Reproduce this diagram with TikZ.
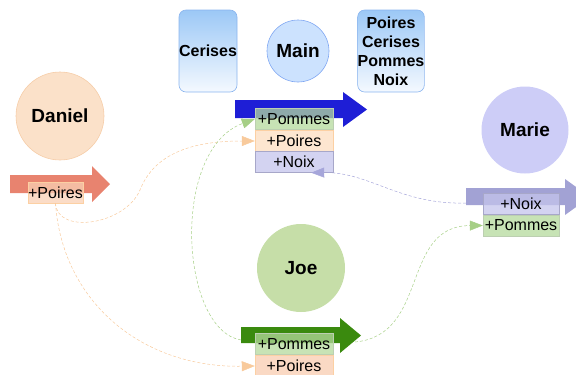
\documentclass[tikz,border=0pt]{standalone}
\usepackage{fontspec}
\setmainfont{Liberation Sans}
\usetikzlibrary{arrows.meta,shadings}
\definecolor{boxtop}{HTML}{9CC8F6}
\definecolor{boxbot}{HTML}{F4F9FF}
\definecolor{boxline}{HTML}{8AB4EE}
\definecolor{mainfill}{HTML}{CCE2FE}
\definecolor{mainline}{HTML}{7FA6F2}
\definecolor{danfill}{HTML}{FBE1C9}
\definecolor{danline}{HTML}{F6CDA8}
\definecolor{marfill}{HTML}{CDCDF7}
\definecolor{joefill}{HTML}{C6DEA8}
\definecolor{bluearr}{HTML}{1E1ED6}
\definecolor{danarr}{HTML}{E8836F}
\definecolor{mararr}{HTML}{A2A2D4}
\definecolor{joearr}{HTML}{3A8A0E}
\definecolor{pomfill}{HTML}{B4DA9C}
\definecolor{poifill}{HTML}{FCDEC0}
\definecolor{noifill}{HTML}{C4C4EC}
\definecolor{orcon}{HTML}{F8CA9C}
\definecolor{grcon}{HTML}{A6CF86}
\definecolor{pucon}{HTML}{A6A6DA}
\tikzset{
  x=1pt, y=-1pt,
  person/.style={circle, minimum size=#1, inner sep=0pt, font=\fontsize{19}{21}\selectfont\bfseries},
  fruitbox/.style={rounded corners=7pt, draw=boxline, line width=0.6pt, top color=boxtop, bottom color=boxbot,
    minimum width=58pt, minimum height=82pt, inner sep=0pt, align=center,
    font=\fontsize{16}{19}\selectfont\bfseries},
  item/.style={minimum width=#1, minimum height=21pt, inner sep=0pt, line width=0.4pt,
    font=\fontsize{16}{18}\selectfont, fill opacity=0.75, text opacity=1},
  item/.default=78pt,
  pomrow/.style={item=#1, fill=pomfill, draw=pomfill!80!black!60},
  pomrow/.default=78pt,
  poirow/.style={item=#1, fill=poifill, draw=poifill!85!orange},
  poirow/.default=78pt,
  noirow/.style={item=#1, fill=noifill, draw=noifill!85!black},
  noirow/.default=78pt,
  conn/.style={densely dashed, line width=0.5pt, -{Triangle[length=13pt,width=10pt]}},
}
\begin{document}
\begin{tikzpicture}
\useasboundingbox (0,0) rectangle (576,375);
\begin{scope}
\clip (0,0) rectangle (576,375);
% boxes
\node[fruitbox] (cerises) at (208,51) {Cerises};
\node[fruitbox, minimum width=66pt] (tous) at (391,51) {Poires\\Cerises\\Pommes\\Noix};
% persons
\node[person=62pt, fill=mainfill, draw=mainline, line width=0.6pt] (main) at (298,51) {Main};
\node[person=88pt, fill=danfill, draw=danline, line width=0.6pt] (daniel) at (60,116) {Daniel};
\node[person=87pt, fill=marfill] (marie) at (525,130) {Marie};
\node[person=88pt, fill=joefill] (joe) at (301,268) {Joe};
% big arrows
\fill[bluearr] (235,100) -- (343,100) -- (343,92) -- (367,109.5) -- (343,127) -- (343,118) -- (235,118) -- cycle;
\fill[danarr] (10,175) -- (92,175) -- (92,166) -- (110,184) -- (92,202) -- (92,193) -- (10,193) -- cycle;
\fill[mararr] (466,188) -- (565,188) -- (565,179) -- (590,197) -- (565,215) -- (565,205) -- (466,205) -- cycle;
\coordinate (marietail) at (466,203);
\fill[joearr] (241,327) -- (340,327) -- (340,318) -- (361,335.5) -- (340,353) -- (340,343) -- (241,343) -- cycle;
\coordinate (joetail) at (241,340);
\coordinate (joehead) at (355,342);
% item rows
\node[pomrow] (mpom) at (294,119) {+Pommes};
\node[poirow] (mpoi) at (294,141) {+Poires};
\node[noirow] (mnoi) at (294,162) {+Noix};
\node[poirow=55pt, fill=poifill!85!danarr] (dpoi) at (55.5,192.5) {+Poires};
\node[noirow=76pt] (rnoi) at (521,204) {+Noix};
\node[pomrow=76pt] (rpom) at (521,225.5) {+Pommes};
\node[pomrow] (jpom) at (294,344) {+Pommes};
\node[poirow, fill=poifill!80!danarr] (jpoi) at (294,366) {+Poires};
% connectors
\draw[conn, orcon] (dpoi.south) .. controls (57,235) and (125,225) .. (140,190)
   .. controls (155,152) and (195,141) .. (mpoi.west);
\draw[conn, orcon] (dpoi.south) .. controls (62,300) and (140,368) .. (jpoi.west);
\draw[conn, grcon] (joetail) .. controls (180,330) and (170,150) .. (mpom.west);
\draw[conn, grcon] (joehead) .. controls (430,335) and (400,226) .. (rpom.west);
\draw[conn, pucon] (marietail) .. controls (400,205) and (370,172) .. ([xshift=-22pt]mnoi.south east);
\end{scope}
\end{tikzpicture}
\end{document}
